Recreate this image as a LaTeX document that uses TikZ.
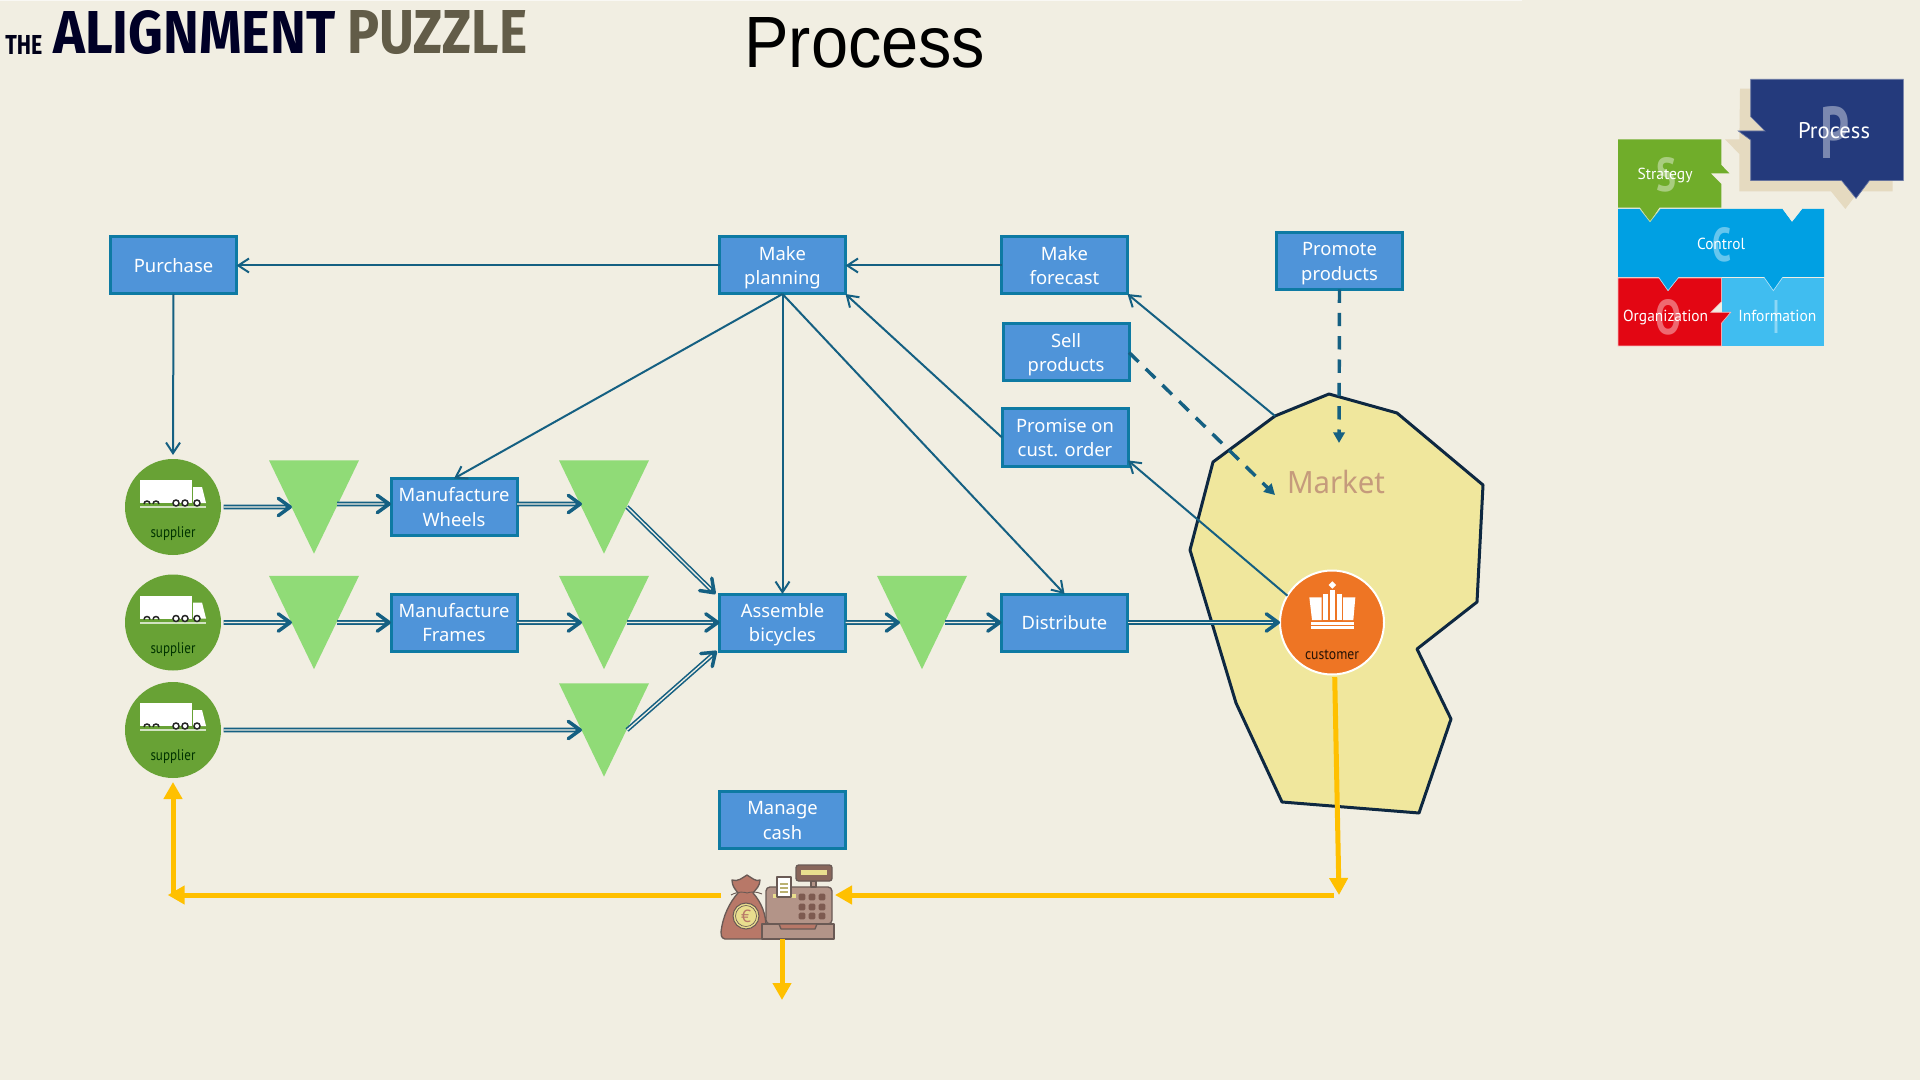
\documentclass[tikz,border=0pt]{standalone}
\usepackage{graphicx}
\usepackage{fontspec}
\setmainfont{Noto Sans}
\newfontfamily\arialf{Liberation Sans}
\newfontfamily\condf{PT Sans}
\newfontfamily\firaf{Fira Sans}
\usetikzlibrary{arrows.meta,calc}
\newdimen\pxu \pxu=.75pt
\newcommand\fw[2]{\resizebox{#1\pxu}{\height}{#2}}
\newcommand\fwh[3]{\resizebox{#1\pxu}{#2\pxu}{#3}}
\newcommand\twol[2]{\rule{0pt}{15.8pt}#1\\\strut #2}
\definecolor{bgc}{HTML}{F1EEE2}
\definecolor{linec}{HTML}{156082}
\definecolor{boxf}{HTML}{4F94D9}
\definecolor{boxd}{HTML}{0E7AA3}
\definecolor{trif}{HTML}{90DB77}
\definecolor{supf}{HTML}{68A235}
\definecolor{orangec}{HTML}{EE7524}
\definecolor{yel}{HTML}{FFC000}
\definecolor{mktf}{HTML}{F0E79D}
\definecolor{mktd}{HTML}{0E2841}
\definecolor{mktt}{HTML}{C59B7C}
\definecolor{navy}{HTML}{243A7C}
\definecolor{shad}{HTML}{E5DAC0}
\definecolor{greenp}{HTML}{70AD2A}
\definecolor{bluep}{HTML}{00A0E3}
\definecolor{redp}{HTML}{E30613}
\definecolor{lbluep}{HTML}{40BDF0}
\definecolor{bagc}{HTML}{B87868}
\definecolor{regc}{HTML}{B39488}
\definecolor{regd}{HTML}{6A5A55}
\definecolor{keyc}{HTML}{7D5A50}
\definecolor{coinc}{HTML}{E9DE8E}
\tikzset{
 pbox/.style={draw=boxd,fill=boxf,line width=2.25pt,minimum width=94.5pt,minimum height=42.75pt,inner sep=0pt,outer sep=0pt,align=center,text=white,font=\fontsize{13.8}{18.3}\selectfont},
 thin arrow/.style={draw=linec,line width=1.5pt,-{Straight Barb[length=8pt,width=10.5pt,line width=1.5pt]}},
 dbl/.style={draw=linec,line width=3.4pt,-{Straight Barb[length=9pt,width=13pt,line width=2.6pt,round]},postaction={draw=bgc,line width=1pt,-,shorten >=5pt}},
 dashy/.style={draw=linec,line width=2.6pt,dash pattern=on 10pt off 7.5pt,-{Triangle[length=8pt,width=8.5pt]}},
 yarrow/.style={draw=yel,line width=3.75pt,-{Triangle[length=12.75pt,width=13.5pt]}},
 sup/.style={circle,fill=supf,minimum size=72pt,inner sep=0pt,outer sep=0pt},
 trisize/.style={inner sep=0pt,outer sep=0pt,minimum width=67.5pt,minimum height=70pt},
 plab/.style={text=white,inner sep=0pt,font=\condf\fontsize{12}{12}\selectfont},
 bigl/.style={text=white,opacity=.4,inner sep=0pt,font=\condf\bfseries\fontsize{36}{36}\selectfont},
}
% triangle: name, centre x, top y
\newcommand\tri[3]{%
 \node[trisize,anchor=north] (#1) at (#2,#3) {};
 \fill[trif] (#1.north west) -- (#1.north east) -- (#1.south) -- cycle;
 \coordinate (#1-l) at ($(#1.center)+(-22,0)$);
 \coordinate (#1-r) at ($(#1.center)+(23,0)$);
}
% supplier: name, cy
\newcommand\supp[2]{%
 \node[sup] (#1) at (173,#2) {};
 \begin{scope}[shift={(173,#2)}]
  \fill[white!70!supf] (-33,-1) rectangle (33,1);
  \fill[white] (-33,-27) rectangle (19,-4);
  \fill[white] (20,-20) -- (29,-20) -- (33,-4) -- (20,-4) -- cycle;
  \foreach \wx in {3,12,24}{\draw[black!85,fill=white,line width=1.1pt] (\wx,-4) circle (3);}
  \foreach \wx in {-26,-17}{\draw[black!85,line width=1.1pt] (\wx-3,-3) arc (180:360:3);}
  \node[inner sep=0pt,text=black!80!green,font=\condf\fontsize{11.5}{12}\selectfont] (#1-t) at (0,27) {\fw{45}{supplier}};
 \end{scope}
}
\begin{document}
\begin{tikzpicture}[x=.75pt,y=-.75pt]
\useasboundingbox (0,0) rectangle (1920,1080);
\fill[bgc] (0,0) rectangle (1920,1080);
\fill[white!60!bgc] (0,0) rectangle (1522,1.5);
% titles
\node[inner sep=0pt,anchor=south west,text=black!90!blue] (the) at (5,55) {\fwh{37}{19}{\firaf\bfseries THE}};
\node[inner sep=0pt,anchor=south west,text=black!85!blue] (align) at (53,55) {\fwh{282}{43}{\firaf\bfseries ALIGNMENT}};
\node[inner sep=0pt,anchor=south west,text={rgb,255:red,98;green,92;blue,72}] (puz) at (347,55) {\fwh{180}{43}{\firaf\bfseries PUZZLE}};
\node[inner sep=0pt,anchor=south west] (ttl) at (744,68) {\fwh{241}{50}{\arialf Process}};
% market
\draw[fill=mktf,draw=mktd,line width=2.25pt,line join=round]
 (1275,416) coordinate (m1) -- (1329,394) -- (1397,413) -- (1483,485) -- (1477,602) -- (1417,649) -- (1451,719) -- (1419,813) -- (1282,802) -- (1236,703) -- (1190,550) -- (1213,462) -- cycle;
\node[text=mktt,inner sep=0pt,font=\fontsize{23}{23}\selectfont] (mlabel) at (1336,482) {\fw{98}{Market}};
\coordinate (mdash) at (1275,495);
\coordinate (mprom) at (1339,443);
% triangles
\tri{t1}{314}{460.33}
\tri{t2}{314}{575.83}
\tri{t3}{604}{460.33}
\tri{t4}{604}{575.83}
\tri{t5}{604}{683.33}
\tri{t6}{922}{575.83}
% suppliers
\supp{s1}{507}
\supp{s2}{622.5}
\supp{s3}{730}
% boxes
\node[pbox] (purchase) at (173.5,265.5) {Purchase};
\node[pbox] (planning) at (782.5,265.5) {\twol{Make}{planning}};
\node[pbox] (forecast) at (1064.5,265.5) {\twol{Make}{forecast}};
\node[pbox] (promote) at (1339.5,261) {\twol{Promote}{products}};
\node[pbox] (sell) at (1066,352.5) {\twol{Sell}{products}};
\node[pbox] (promise) at (1065,437.5) {\twol{Promise on}{cust. order}};
\node[pbox] (wheels) at (454,507) {\twol{Manufacture}{Wheels}};
\node[pbox] (frames) at (454,622.5) {\twol{Manufacture}{Frames}};
\node[pbox] (assemble) at (782.5,622.5) {\twol{Assemble}{bicycles}};
\node[pbox] (distribute) at (1064.5,622.5) {Distribute};
\node[pbox] (manage) at (782.5,820) {\twol{Manage}{cash}};
% thin arrows
\draw[thin arrow] (planning) -- (purchase);
\draw[thin arrow] (forecast) -- (planning);
\draw[thin arrow] (purchase.south) -- ([yshift=3pt]s1.north);
\draw[thin arrow] (planning.south) -- (wheels.north);
\draw[thin arrow] (planning.south) -- (assemble.north);
\draw[thin arrow] (planning.south) -- (distribute.north);
\draw[thin arrow] (promise.west) -- (planning.south east);
\draw[thin arrow] (m1) -- (forecast.south east);
% customer
\node[circle,fill=orangec,draw=white,line width=1.5pt,minimum size=78pt,inner sep=0pt,outer sep=0pt] (cust) at (1332,622.5) {};
\draw[thin arrow] (cust.149) -- (promise.-20);
\draw[dashy] (sell.east) -- (mdash);
\draw[dashy] (promote.south) -- (mprom);
% double arrows
\draw[dbl,shorten <=2pt] (s1.east) -- (t1-l);
\draw[dbl] ([yshift=2.25pt]t1-r) -- ([yshift=2.25pt]wheels.west);
\draw[dbl] ([yshift=2.25pt]wheels.east) -- ([yshift=2.25pt]t3-l);
\draw[dbl] (t3-r) -- ([xshift=-3pt]assemble.north west);
\draw[dbl,shorten <=2pt] (s2.east) -- (t2-l);
\draw[dbl] (t2-r) -- (frames.west);
\draw[dbl] (frames.east) -- (t4-l);
\draw[dbl] (t4-r) -- (assemble.west);
\draw[dbl,shorten <=2pt] (s3.east) -- (t5-l);
\draw[dbl] (t5-r) -- ([xshift=-2pt]assemble.south west);
\draw[dbl] (assemble.east) -- (t6-l);
\draw[dbl] (t6-r) -- (distribute.west);
\draw[dbl] (distribute.east) -- (cust.west);
% customer icon
\begin{scope}[shift={(1240,540)},x=.25pt,y=-.25pt]
 \fill[white] (208,172) -- (245,172) -- (245,240) -- (216,240) -- cycle;
 \fill[white] (250,162) rectangle (264,240);
 \fill[white] (270,150) rectangle (285,240);
 \fill[white] (291,162) rectangle (305,240);
 \fill[white] (309,172) -- (346,172) -- (340,240) -- (309,240) -- cycle;
 \fill[white] (213,245) rectangle (341,254);
 \fill[white] (213,258) rectangle (341,267);
 \fill[white] (277,124) -- (288,135) -- (277,146) -- (266,135) -- cycle;
\end{scope}
\node[inner sep=0pt,text=black!85!orangec,font=\condf\fontsize{11.5}{12}\selectfont] (custt) at (1332,655) {\fw{54}{customer}};
% cash icon
\node[inner sep=0pt,outer sep=0pt,minimum width=85.5pt,minimum height=55.5pt] (cash) at (778,902) {};
\begin{scope}[regd,line width=1pt,line join=round]
 \draw[fill=bagc] (732,880) .. controls (738,882) and (742,878) .. (747,875) .. controls (752,878) and (756,882) .. (760,880) .. controls (760,886) and (756,889) .. (753,893) .. controls (762,903) and (766,915) .. (766,927) -- (763,939) -- (725,939) .. controls (721,938) and (721,935) .. (721,932) .. controls (723,915) and (730,902) .. (738,893) .. controls (735,889) and (732,886) .. (732,880) -- cycle;
 \draw[line width=.7pt] (731,895) .. controls (738,891) and (745,892) .. (747,893) .. controls (750,892) and (756,891) .. (762,894);
 \draw[fill=coinc,line width=.8pt] (746,916) circle (13);
 \draw[line width=.5pt] (746,916) circle (10.5);
 \node[inner sep=0pt,text=bagc,font=\fontsize{13}{13}\selectfont] (euro) at (746,916) {€};
 \draw[fill=regc,rounded corners=3pt] (766,924) -- (766,887) -- (832,887) -- (832,924) -- cycle;
 \fill[coinc] (773,894) rectangle (796,898);
 \draw[fill=regc] (762,924) rectangle (834,939);
 \draw[fill=bagc] (779,924) -- (817,924) -- (815,929) -- (781,929) -- cycle;
 \draw[fill=regc] (811,881) rectangle (816,887);
 \draw[fill=keyc!80!regc,rounded corners=2pt] (796,865) rectangle (832,881);
 \fill[coinc] (801,870) rectangle (827,875);
 \draw[fill=white,draw=regd,line width=.8pt] (777,877) rectangle (791,897);
 \fill[coinc!80!black] (780,883) rectangle (788,885);
 \fill[coinc!80!black] (780,887) rectangle (788,889);
 \fill[coinc!80!black] (780,891) rectangle (788,893);
 \foreach \kx in {802,812,822}{\foreach \ky in {897,907,916}{\fill[keyc,rounded corners=1pt] (\kx-3.3,\ky-3.3) rectangle (\kx+3.3,\ky+3.3);}}
\end{scope}
% yellow flows
\coordinate (yh) at (1339,895);
\coordinate (yl) at (173,895);
\coordinate (yd) at (782,1000);
\draw[yarrow,shorten <=2pt] ([xshift=2pt]cust.south) -- (yh);
\draw[yarrow] (1334,895) -- (yh -| cash.east);
\draw[yarrow] (yh -| cash.west) -- ([xshift=-4pt]yl);
\draw[yarrow,shorten <=-1pt] (yl) -- ([yshift=-3pt]s3.south);
\draw[yarrow] (cash.south -| yd) -- (yd);
% puzzle icon
\begin{scope}[shift={(1580,60)},x=.25pt,y=-.25pt]
 \fill[shad] (480,86) -- (938,86) -- (938,394) -- (836,394) -- (796,447) -- (753,394) -- (478,394) -- (478,282) -- (435,238) -- (478,238) -- cycle;
 \fill[navy,draw=white!30!navy,line width=.5pt] (512,58) -- (970,58) -- (970,362) -- (868,362) -- (828,415) -- (785,362) -- (512,362) -- (512,240) -- (475,213) -- (555,213) -- (512,170) -- cycle;
 \fill[lbluep] (425,654) rectangle (732,858);
 \fill[bluep] (114,447) -- (180,447) -- (210,485) -- (240,447) -- (608,447) -- (636,485) -- (666,447) -- (732,447) -- (732,651) -- (114,651) -- cycle;
 \fill[greenp] (114,238) -- (424,238) -- (424,315) -- (448,340) -- (392,340) -- (424,372) -- (424,443) -- (238,443) -- (210,485) -- (180,443) -- (114,443) -- cycle;
 \draw[white!60!greenp,line width=.5pt] (180,447) -- (210,485) -- (240,447);
 \fill[bgc] (608,447) -- (636,485) -- (666,447) -- cycle;
 \fill[redp,draw=white!70!redp,line width=.5pt] (114,654) -- (424,654) -- (424,725) -- (392,757) -- (452,757) -- (424,790) -- (424,858) -- (114,858) -- cycle;
 \fill[bluep] (236,651) -- (264,692) -- (296,651) -- cycle;
 \fill[bluep] (552,651) -- (580,692) -- (608,651) -- cycle;
 \draw[white!70!bluep,line width=.5pt] (236,652) -- (264,692) -- (296,652);
 \draw[white!70!bluep,line width=.5pt] (552,652) -- (580,692) -- (608,652);
 \node[bigl] (lp) at (765,217) {\fwh{29}{52}{P}};
 \node[bigl] (ls) at (258,346) {\fwh{20}{34}{S}};
 \node[bigl] (lc) at (426,556) {\fwh{19}{34}{C}};
 \node[bigl] (lo) at (266,772) {\fwh{26}{35}{O}};
 \node[bigl] (li) at (589,770) {\fwh{6}{33}{I}};
 \node[plab,font=\condf\fontsize{17}{17}\selectfont] (tp) at (762,212) {\fw{72}{Process}};
 \node[plab] (ts) at (255,347) {\fw{55}{Strategy}};
 \node[plab] (tc) at (423,552) {\fw{48}{Control}};
 \node[plab] (to) at (257,774) {\fw{85}{Organization}};
 \node[plab] (ti) at (592,769) {\fw{78}{Information}};
\end{scope}
\end{tikzpicture}
\end{document}
